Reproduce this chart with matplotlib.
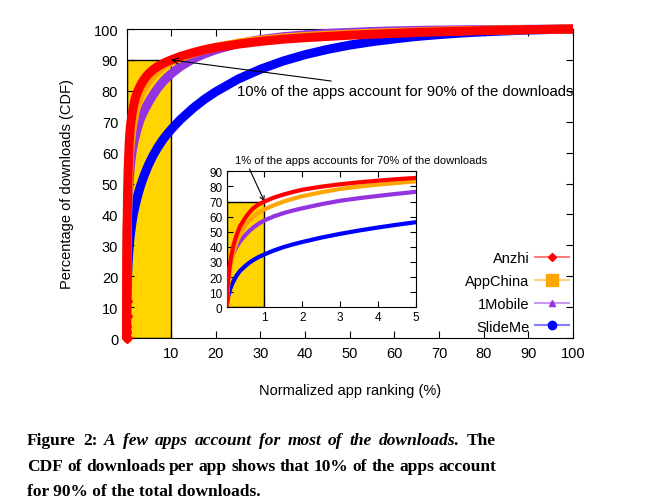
import numpy as np
import matplotlib.pyplot as plt
from matplotlib.lines import Line2D
from matplotlib.patches import Rectangle

plt.rcParams['font.family'] = ['Liberation Sans', 'DejaVu Sans']

# normalized app ranking (%) and CDF of downloads (%)
rank = [0, 0.01, 0.02, 0.035, 0.05, 0.075, 0.1, 0.13, 0.175, 0.25,
        0.35, 0.5, 0.6, 0.7, 0.85, 1, 1.25, 1.5, 1.75, 2,
        2.5, 3, 3.5, 4, 4.5, 5, 6, 7, 8, 9,
        10, 12, 15, 17.5, 20, 25, 30, 35, 40, 45,
        50, 55, 60, 65, 70, 75, 80, 85, 90, 95, 100]
anzhi = [0, 7, 12, 17, 21, 26, 30.5, 35, 40.5, 47,
         53.5, 59.5, 62.8, 65.5, 68.2, 70, 72.6, 74.6, 76.3, 77.8,
         79.8, 81.4, 82.7, 83.8, 84.8, 85.6, 86.9, 87.9, 88.7, 89.4,
         90, 91.1, 92.4, 93.3, 94, 95.1, 96, 96.7, 97.2, 97.6,
         98, 98.3, 98.6, 98.9, 99.1, 99.3, 99.5, 99.65, 99.8, 99.9, 100]
appchina = [0, 4, 8, 13, 17, 22, 26.5, 31, 36, 42,
            48, 54.5, 57.5, 60, 62.7, 64.8, 67.6, 69.9, 71.8, 73.5,
            76.1, 78.3, 79.9, 81.2, 82.3, 83.3, 85.1, 86.6, 87.8, 88.7,
            89.4, 90.7, 92.3, 93.3, 94.1, 95.4, 96.4, 97.1, 97.6, 98,
            98.35, 98.65, 98.9, 99.1, 99.3, 99.45, 99.6, 99.7, 99.8, 99.9, 100]
onemobile = [0, 9, 14, 19, 22.5, 26.5, 29.5, 32.3, 35.5, 39.5,
             43.5, 48, 50.5, 52.7, 55.4, 57.5, 60.2, 62.3, 64, 65.5,
             68.2, 70.5, 72.2, 73.7, 75.1, 76.4, 78.8, 80.9, 82.7, 84.2,
             85.5, 87.8, 90.4, 92, 93.3, 95.3, 96.6, 97.5, 98.1, 98.6,
             98.9, 99.2, 99.4, 99.55, 99.65, 99.75, 99.8, 99.85, 99.9, 99.95, 100]
slideme = [0, 2, 4, 6.3, 8, 10.5, 12.5, 14.5, 17, 20.5,
           24, 27.5, 29.5, 31.2, 33.3, 35, 37.6, 39.8, 41.6, 43.2,
           46.1, 48.6, 50.8, 52.8, 54.6, 56.3, 59.2, 61.7, 63.9, 65.8,
           67.5, 70.6, 74.5, 77.3, 79.7, 83.8, 87, 89.6, 91.7, 93.4,
           94.8, 95.9, 96.8, 97.6, 98.2, 98.7, 99.1, 99.4, 99.65, 99.85, 100]

names = ['Anzhi', 'AppChina', '1Mobile', 'SlideMe']
series = [anzhi, appchina, onemobile, slideme]
colors = ['#ff0000', '#ffa500', '#9433e0', '#0000ff']
markers = ['D', 's', '^', 'o']
msizes = [4, 8, 5, 6]
gold = '#ffd400'

fig = plt.figure(figsize=(6.62, 5.02), dpi=100)

# ---- main plot ----
ax = fig.add_axes([0.1911, 0.3247, 0.6745, 0.6155])
ax.add_patch(Rectangle((0, 0), 10, 90, facecolor=gold, edgecolor='black', lw=1, zorder=1))
for i in [3, 2, 1, 0]:
    ax.plot(rank, series[i], color=colors[i], lw=6.5, marker=markers[i], ms=5,
            markevery=[0, 1, 2], solid_capstyle='butt', clip_on=False, zorder=2 + (3 - i))

ax.set_xlim(0, 100)
ax.set_ylim(0, 100)
ax.set_xticks(np.arange(0, 101, 10))
ax.set_xticklabels([''] + [str(v) for v in range(10, 101, 10)])
ax.set_yticks(np.arange(0, 101, 10))
ax.tick_params(direction='in', top=True, right=True, length=5, labelsize=10.5, pad=6)
ax.set_xlabel('Normalized app ranking (%)', fontsize=10.5, labelpad=16)
ax.set_ylabel('Percentage of downloads (CDF)', fontsize=10.5, labelpad=14)

ax.annotate('10% of the apps account for 90% of the downloads', xy=(10, 90), xytext=(24.8, 80),
            fontsize=10.7, ha='left', va='center', zorder=10,
            arrowprops=dict(arrowstyle='->', color='black', lw=0.8, shrinkA=0, shrinkB=0))

handles = []
for i in range(4):
    r, g, b = plt.matplotlib.colors.to_rgb(colors[i])
    handles.append(Line2D([], [], color=(r, g, b, 0.5), lw=1.5, marker=markers[i], ms=msizes[i],
                          markerfacecolor=(r, g, b, 1), markeredgecolor=(r, g, b, 1)))
ax.legend(handles, names, loc='lower right', frameon=False, markerfirst=False, fontsize=10.5,
          handlelength=2.3, handletextpad=0.4, labelspacing=0.6, bbox_to_anchor=(1.02, -0.028))

# ---- inset ----
ins = fig.add_axes([0.3424, 0.3859, 0.2855, 0.2709])
ins.add_patch(Rectangle((0, 0), 1, 70, facecolor=gold, edgecolor='black', lw=1, zorder=1))
for i in [3, 2, 1, 0]:
    ins.plot(rank, series[i], color=colors[i], lw=3, zorder=2 + (3 - i))
ins.set_xlim(0, 5)
ins.set_ylim(0, 90)
ins.set_xticks([0, 1, 2, 3, 4, 5])
ins.set_xticklabels(['', '1', '2', '3', '4', '5'])
ins.set_yticks(np.arange(0, 91, 10))
ins.tick_params(direction='in', top=True, right=True, length=4, labelsize=8.5, pad=3)
ins.annotate('1% of the apps accounts for 70% of the downloads', xy=(1, 70), xytext=(0.22, 97.5),
             fontsize=8, ha='left', va='center', annotation_clip=False,
             arrowprops=dict(arrowstyle='->', color='black', lw=0.8, relpos=(0.05, 0),
                             shrinkA=1, shrinkB=0))

# ---- caption (justified lines) ----
cap = dict(family=['Liberation Serif', 'DejaVu Serif'], fontsize=12.5, weight='bold', va='bottom')
renderer = fig.canvas.get_renderer()
left_px, right_px = 27, 496


def justify(words, y_px):
    # words: list of (text, style)
    texts = [fig.text(0, 1 - y_px / 502, w, style=s, **cap) for w, s in words]
    widths = [t.get_window_extent(renderer).width for t in texts]
    gap = (right_px - left_px - sum(widths)) / (len(texts) - 1)
    x = left_px
    for t, w in zip(texts, widths):
        t.set_x(x / 662)
        x += w + gap


line1 = [(w, 'normal') for w in ['Figure', '2:']]
line1 += [(w, 'italic') for w in 'A few apps account for most of the downloads.'.split()]
line1 += [('The', 'normal')]
justify(line1, 449)
justify([(w, 'normal') for w in
         'CDF of downloads per app shows that 10% of the apps account'.split()], 475)
fig.text(left_px / 662, 1 - 500 / 502, 'for 90% of the total downloads.', **cap)

fig.savefig('out.png', dpi=100)
